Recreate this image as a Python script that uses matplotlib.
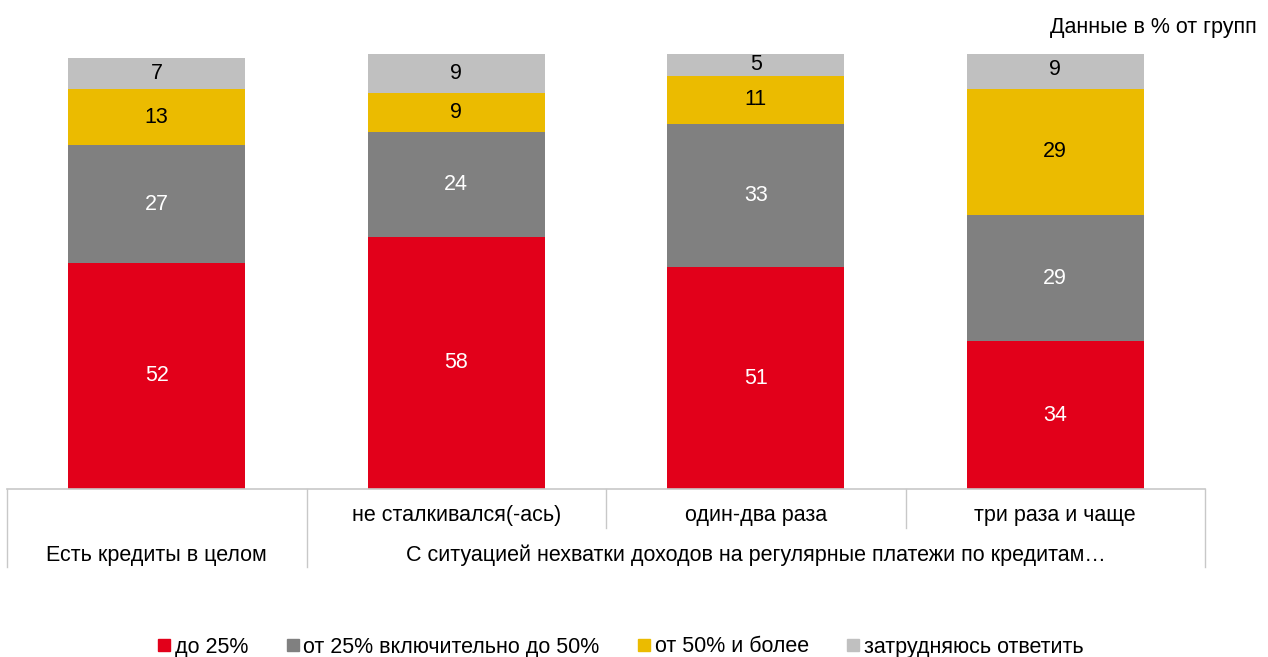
import numpy as np
import matplotlib.pyplot as plt
from matplotlib.lines import Line2D

plt.rcParams['font.family'] = ['Liberation Sans', 'DejaVu Sans']

# Данные
groups = ['Есть кредиты в целом', 'не сталкивался(-ась)', 'один-два раза', 'три раза и чаще']
series = ['до 25%', 'от 25% включительно до 50%', 'от 50% и более', 'затрудняюсь ответить']
up_to_25 = [52, 58, 51, 34]
from_25_to_50 = [27, 24, 33, 29]
over_50 = [13, 9, 11, 29]
hard_to_say = [7, 9, 5, 9]
group_title = 'С ситуацией нехватки доходов на регулярные платежи по кредитам…'

colors = ['#E2001A', '#808080', '#EBBB00', '#C0C0C0']
text_colors = ['white', 'white', 'black', 'black']
fs = 15.5

W, H = 1268, 657
fig = plt.figure(figsize=(W / 100, H / 100), dpi=100)
ax = fig.add_axes([7 / W, (H - 489) / H, 1198 / W, 435 / H])

x = np.arange(len(groups))
bottom = np.zeros(len(groups))
for vals, c, tc in zip([up_to_25, from_25_to_50, over_50, hard_to_say], colors, text_colors):
    vals = np.array(vals, dtype=float)
    ax.bar(x, vals, width=0.59, bottom=bottom, color=c, edgecolor='none')
    for xi, b, v in zip(x, bottom, vals):
        ax.text(xi, b + v / 2, f'{v:.0f}', ha='center', va='center', color=tc, fontsize=fs)
    bottom += vals

ax.set_xlim(-0.5, 3.5)
ax.set_ylim(0, 100)
ax.axis('off')

# Таблица подписей под осью
lc = '#C8C8C8'
trans = ax.get_xaxis_transform()
def px_y(py):
    return (489 - py) / 435.0

ax.add_line(Line2D([-0.5, 3.5], [0, 0], color=lc, lw=1.2, transform=trans, clip_on=False))
for xb, yb in [(-0.5, 567), (0.5, 567), (1.5, 528), (2.5, 528), (3.5, 567)]:
    ax.add_line(Line2D([xb, xb], [0, px_y(yb)], color=lc, lw=1, transform=trans, clip_on=False))

for xi, g in zip(x[1:], groups[1:]):
    ax.text(xi, px_y(516), g, ha='center', va='center', fontsize=fs, transform=trans)
ax.text(0, px_y(555), groups[0], ha='center', va='center', fontsize=fs, transform=trans)
ax.text(2, px_y(555), group_title, ha='center', va='center', fontsize=fs, transform=trans)

fig.text(1257 / W, 1 - 27 / H, 'Данные в % от групп', ha='right', va='center', fontsize=fs)

handles = [Line2D([], [], marker='s', linestyle='none', markersize=9, color=c) for c in colors]
fig.legend(handles, series, loc='center', bbox_to_anchor=(619 / W, 1 - 647 / H), ncol=4,
           frameon=False, fontsize=fs, handletextpad=0.05, columnspacing=1.6, handlelength=0.9)

fig.savefig('out.png', dpi=100)
